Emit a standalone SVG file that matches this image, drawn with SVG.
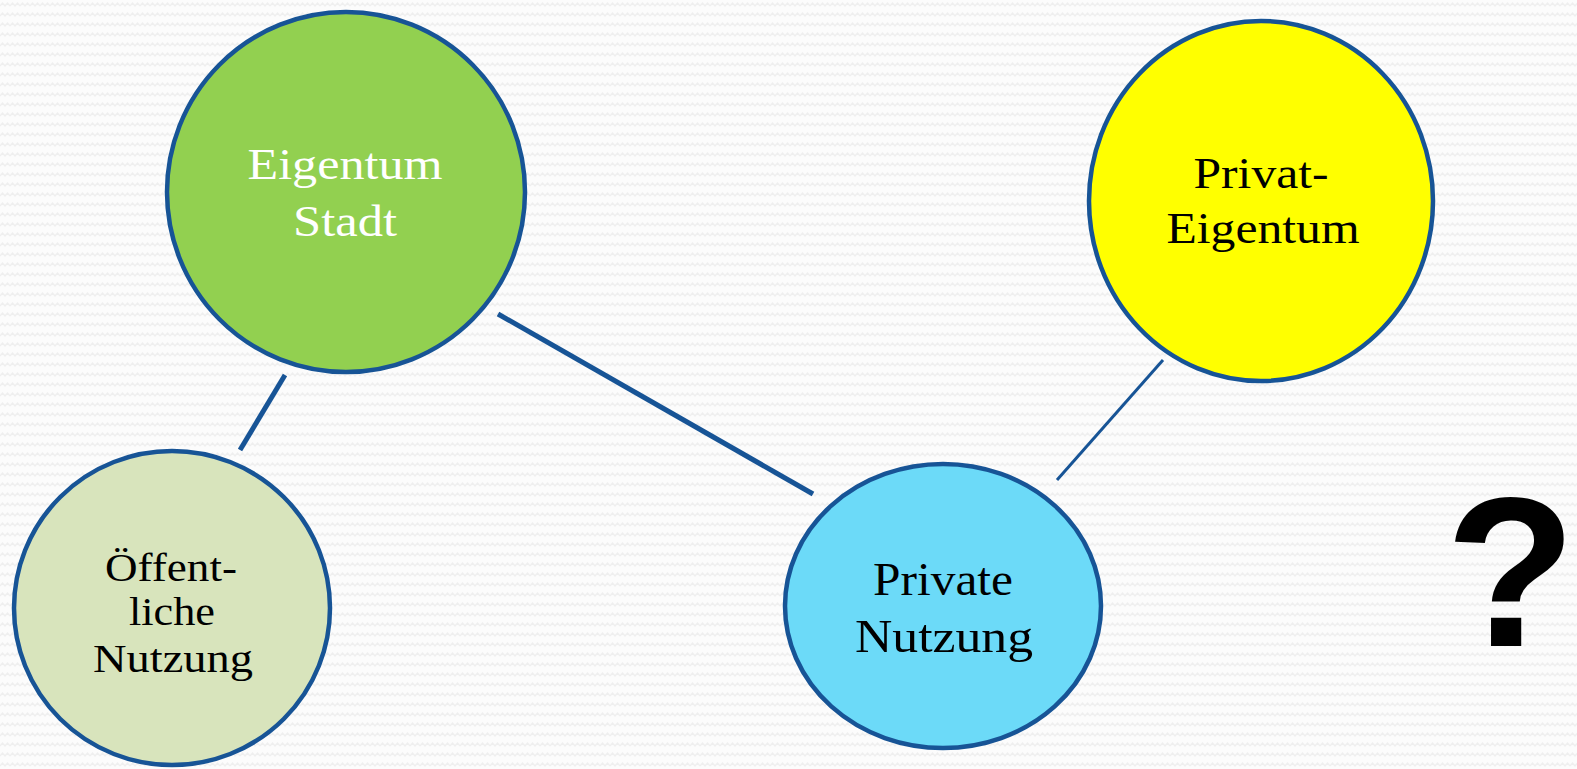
<svg xmlns="http://www.w3.org/2000/svg" width="1577" height="769" viewBox="0 0 1577 769">
<defs>
<pattern id="bg" width="10" height="10" patternUnits="userSpaceOnUse">
<rect width="10" height="10" fill="#fcfcfc"/>
<path d="M0,6 L2.5,3 L5,6 L7.5,3 L10,6" fill="none" stroke="#efefef" stroke-width="1.2"/>
</pattern>
<style>
.node{stroke:#175496;stroke-width:4.5}
.lbl{font-family:"Liberation Serif","DejaVu Serif",serif;text-anchor:middle}
.con{stroke:#175496;fill:none}
</style>
</defs>
<rect width="1577" height="769" fill="url(#bg)"/>
<g id="connectors">
<line class="con" x1="285" y1="375" x2="240" y2="450" stroke-width="5"/>
<line class="con" x1="498" y1="314" x2="813" y2="494" stroke-width="5"/>
<line class="con" x1="1163" y1="360" x2="1057" y2="480" stroke-width="3"/>
</g>
<g id="eigentum-stadt">
<ellipse class="node" cx="346" cy="192" rx="179" ry="180" fill="#92d050"/>
<text class="lbl" fill="#ffffff" font-size="45"><tspan x="345" y="179" textLength="195" lengthAdjust="spacingAndGlyphs">Eigentum</tspan><tspan x="345" y="236" textLength="104" lengthAdjust="spacingAndGlyphs">Stadt</tspan></text>
</g>
<g id="oeffentliche-nutzung">
<ellipse class="node" cx="172" cy="608" rx="158" ry="157" fill="#d8e4bc"/>
<text class="lbl" fill="#000000" font-size="41"><tspan x="171" y="581" textLength="132" lengthAdjust="spacingAndGlyphs">Öffent-</tspan><tspan x="172" y="625" textLength="86" lengthAdjust="spacingAndGlyphs">liche</tspan><tspan x="173" y="672" textLength="160" lengthAdjust="spacingAndGlyphs">Nutzung</tspan></text>
</g>
<g id="private-nutzung">
<ellipse class="node" cx="943" cy="606" rx="158" ry="142" fill="#6cdaf8"/>
<text class="lbl" fill="#000000" font-size="46"><tspan x="943" y="595" textLength="140" lengthAdjust="spacingAndGlyphs">Private</tspan><tspan x="944" y="652" textLength="178" lengthAdjust="spacingAndGlyphs">Nutzung</tspan></text>
</g>
<g id="privat-eigentum">
<ellipse class="node" cx="1261" cy="201" rx="172" ry="180" fill="#ffff00"/>
<text class="lbl" fill="#000000" font-size="45"><tspan x="1261" y="188" textLength="135" lengthAdjust="spacingAndGlyphs">Privat-</tspan><tspan x="1263" y="243" textLength="193" lengthAdjust="spacingAndGlyphs">Eigentum</tspan></text>
</g>
<text x="1576" y="646" font-family="'Liberation Sans',Arial,sans-serif" font-weight="bold" font-size="214" text-anchor="end" fill="#000000">?</text>
</svg>
